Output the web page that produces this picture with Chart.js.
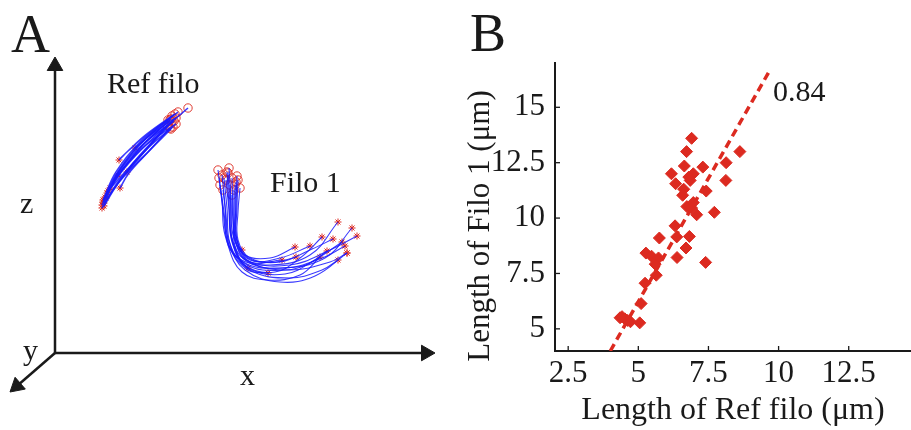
<!DOCTYPE html>
<html>
<head>
<meta charset="utf-8">
<script src="https://cdn.jsdelivr.net/npm/chart.js@4.4.1/dist/chart.umd.min.js"></script>
<style>
  html, body { margin: 0; padding: 0; background: #ffffff; }
  #wrap { position: relative; width: 911px; height: 430px; overflow: hidden; }
  #chartA { position: absolute; left: 0; top: 0; }
  #chartB { position: absolute; left: 460px; top: 0; }
</style>
</head>
<body>
<div id="wrap">
  <canvas id="chartA" width="460" height="430"></canvas>
  <canvas id="chartB" width="451" height="430"></canvas>
</div>
<script>
// ---------------- Panel B data ----------------
const REF_FILO_LEN = [6.90, 6.72, 8.62, 8.13, 7.30, 6.64, 6.18, 6.96, 6.33, 6.85, 8.12, 6.62, 7.42, 6.58, 6.73, 6.96, 7.08, 7.71, 6.31, 6.37, 6.82, 5.75, 6.70, 5.27, 5.47, 5.72, 6.38, 5.60, 7.40, 5.64, 5.24, 5.10, 4.42, 4.52, 4.62, 4.72, 5.05, 4.35, 6.80, 6.90];
const FILO1_LEN    = [13.6, 13.0, 13.0, 12.5, 12.3, 12.35, 12.0, 12.0, 11.55, 11.7, 11.7, 11.3, 11.22, 11.03, 10.52, 10.7, 10.15, 10.26, 9.65, 9.15, 9.17, 9.1, 8.65, 8.42, 8.28, 8.2, 8.22, 7.92, 8.0, 7.42, 7.06, 6.14, 5.55, 5.45, 5.38, 5.32, 5.27, 5.5, 11.85, 10.45];
const FIT_X = [4.0, 9.7];
const FIT_Y = [4.0, 16.7];
const CORR_LABEL = '0.84';
const CORR_POS = [9.8, 15.65];
const X_TICKS = [2.5, 5, 7.5, 10, 12.5];
const Y_TICKS = [5, 7.5, 10, 12.5, 15];
const X_TITLE = 'Length of Ref filo (\u03bcm)';
const Y_TITLE = 'Length of Filo 1 (\u03bcm)';

// ---------------- Panel A data (schematic x / z units) ----------------
const REF_FILO_TRACES = [
  [[47,148],[62,176],[86,206],[115,233]],
  [[48,153],[61,181],[85,211],[117,237]],
  [[52,160],[66,185],[91,215],[123,241]],
  [[50,156],[68,183],[95,212],[133,245]],
  [[49,150],[67,175],[92,204],[113,227]],
  [[53,162],[70,181],[94,206],[118,226]],
  [[64,193],[73,202],[92,219],[120,239]],
  [[72,181],[78,190],[96,210],[117,231]],
  [[65,165],[74,180],[95,203],[115,225]],
  [[80,205],[92,215],[105,225],[121,235]],
  [[63,178],[72,189],[90,210],[116,234]],
  [[47,145],[63,171],[88,200],[112,228]],
  [[48,151],[59,175],[81,205],[113,233]],
  [[51,155],[64,181],[87,208],[119,232]],
  [[55,165],[67,183],[91,208],[121,229]],
  [[49,147],[65,172],[93,201],[116,224]]
];
const FILO1_TRACES = [
  [[163,183],[167,153],[170,118],[183,95],[215,88],[255,98],[283,131]],
  [[167,178],[170,148],[173,115],[188,91],[225,85],[270,95],[297,125]],
  [[173,180],[175,148],[177,115],[191,93],[235,88],[275,103],[302,117]],
  [[177,175],[178,145],[180,113],[193,91],[230,85],[267,95],[290,107]],
  [[181,171],[181,143],[182,113],[195,91],[235,83],[275,91],[292,100]],
  [[185,165],[183,141],[183,113],[195,95],[225,91],[255,103],[278,114]],
  [[171,173],[174,143],[177,111],[191,87],[220,81],[245,95],[267,116]],
  [[175,168],[176,141],[178,109],[193,85],[230,79],[263,95],[287,111]],
  [[179,163],[179,138],[180,107],[195,83],[235,75],[267,83],[283,93]],
  [[165,168],[169,141],[173,108],[187,81],[213,73],[245,78],[265,96]],
  [[174,185],[176,153],[178,118],[190,98],[215,95],[240,106]],
  [[182,177],[181,148],[181,115],[193,95],[220,91],[241,96]],
  [[168,163],[171,138],[175,105],[193,83],[213,80]],
  [[177,158],[178,133],[182,108],[187,103]],
  [[180,168],[180,141],[181,110],[195,91],[227,93]],
  [[172,181],[174,148],[177,113],[192,88],[230,83],[255,90],[272,102]],
  [[169,175],[172,145],[175,109],[190,83],[225,71],[260,77],[292,100]],
  [[183,173],[182,145],[182,113],[195,93],[225,95],[255,107]],
  [[164,175],[168,143],[173,110],[186,90],[193,85]]
];
const SCHEMATIC_AXES = [
  { name: 'x', tip: [380, 0] },
  { name: 'z', tip: [0, 296] },
  { name: 'y', tip: [-45, -39] }
];
const LABELS_A = [
  { text: 'Ref filo', x: 52, z: 260 },
  { text: 'Filo 1', x: 215, z: 161 },
  { text: 'z', x: -35, z: 140 },
  { text: 'y', x: -32, z: -7 },
  { text: 'x', x: 185, z: -32 }
];

// ---------------- styles ----------------
const SERIF = "'Liberation Serif', 'Times New Roman', serif";
const INK = '#1a1a1a';
const RED = '#dc2a20';
const BLUE = 'rgba(25,25,255,0.85)';

// ---------------- Chart A ----------------
const dsA = [];
function toPts(tr) { return tr.map(p => ({ x: p[0], y: p[1] })); }
REF_FILO_TRACES.forEach(tr => dsA.push({ type: 'line', data: toPts(tr), borderColor: BLUE, borderWidth: 1.6, pointRadius: 0, tension: 0.4, fill: false }));
FILO1_TRACES.forEach(tr => dsA.push({ type: 'line', data: toPts(tr), borderColor: BLUE, borderWidth: 1.1, pointRadius: 0, tension: 0.4, fill: false }));
// Ref filo: stars at first point, circles at last; Filo 1: circles at first, stars at last
const circlePts = REF_FILO_TRACES.map(t => t[t.length - 1]).concat(FILO1_TRACES.map(t => t[0]));
const starPts = REF_FILO_TRACES.map(t => t[0]).concat(FILO1_TRACES.map(t => t[t.length - 1]));
dsA.push({ type: 'scatter', data: toPts(circlePts), pointStyle: 'circle', pointRadius: 4.2, backgroundColor: 'rgba(0,0,0,0)', borderColor: RED, borderWidth: 0.9 });
dsA.push({ type: 'scatter', data: toPts(starPts), pointStyle: 'star', pointRadius: 3.5, backgroundColor: RED, borderColor: RED, borderWidth: 1 });
// schematic axes with arrow heads
SCHEMATIC_AXES.forEach(ax => {
  const [tx, tz] = ax.tip;
  const len = Math.hypot(tx, tz);
  const ux = tx / len, uz = tz / len;
  const rot = Math.atan2(ux, uz) * 180 / Math.PI;
  dsA.push({ type: 'line', data: [{ x: 0, y: 0 }, { x: tx - 10 * ux, y: tz - 10 * uz }], borderColor: INK, borderWidth: 2.5, pointRadius: 0, tension: 0 });
  dsA.push({ type: 'scatter', data: [{ x: tx - 9 * ux, y: tz - 9 * uz }], pointStyle: 'triangle', pointRadius: 9, rotation: rot, backgroundColor: INK, borderColor: INK, borderWidth: 1 });
});

const textA = {
  id: 'textA',
  afterDraw(chart) {
    const ctx = chart.ctx, sx = chart.scales.x, sy = chart.scales.y;
    ctx.save();
    ctx.fillStyle = INK;
    ctx.textBaseline = 'alphabetic';
    ctx.textAlign = 'left';
    ctx.font = '30px ' + SERIF;
    LABELS_A.forEach(l => ctx.fillText(l.text, sx.getPixelForValue(l.x), sy.getPixelForValue(l.z)));
    ctx.font = '54px ' + SERIF;
    ctx.fillText('A', 11, 52);
    ctx.restore();
  }
};

new Chart(document.getElementById('chartA'), {
  data: { datasets: dsA },
  options: {
    responsive: false, animation: false,
    layout: { padding: 0, autoPadding: false },
    plugins: { legend: { display: false }, tooltip: { enabled: false } },
    scales: {
      x: { type: 'linear', min: -55, max: 405, display: false },
      y: { type: 'linear', min: -77, max: 353, display: false }
    }
  },
  plugins: [textA]
});

// ---------------- Chart B ----------------
const decorB = {
  id: 'decorB',
  afterDraw(chart) {
    const ctx = chart.ctx, sx = chart.scales.x, sy = chart.scales.y, a = chart.chartArea;
    ctx.save();
    ctx.strokeStyle = INK; ctx.lineWidth = 1.3;
    X_TICKS.forEach(v => { const px = sx.getPixelForValue(v); ctx.beginPath(); ctx.moveTo(px, a.bottom); ctx.lineTo(px, a.bottom - 5); ctx.stroke(); });
    Y_TICKS.forEach(v => { const py = sy.getPixelForValue(v); ctx.beginPath(); ctx.moveTo(a.left, py); ctx.lineTo(a.left + 5, py); ctx.stroke(); });
    ctx.fillStyle = INK;
    ctx.font = '30px ' + SERIF;
    ctx.textAlign = 'left'; ctx.textBaseline = 'middle';
    ctx.fillText(CORR_LABEL, sx.getPixelForValue(CORR_POS[0]), sy.getPixelForValue(CORR_POS[1]));
    // y-axis title (rotated), centred where the original places it
    ctx.save();
    ctx.translate(29, 226);
    ctx.rotate(-Math.PI / 2);
    ctx.textAlign = 'center'; ctx.textBaseline = 'alphabetic';
    ctx.font = '31px ' + SERIF;
    ctx.fillText(Y_TITLE, 0, 0);
    ctx.restore();
    ctx.font = '54px ' + SERIF;
    ctx.textAlign = 'left'; ctx.textBaseline = 'alphabetic';
    ctx.fillText('B', 10, 51);
    ctx.restore();
  }
};

new Chart(document.getElementById('chartB'), {
  data: {
    datasets: [
      { type: 'line', data: FIT_X.map((x, i) => ({ x, y: FIT_Y[i] })), borderColor: RED, borderWidth: 3.5, borderDash: [8, 5], pointRadius: 0, tension: 0, order: 2 },
      { type: 'scatter', data: REF_FILO_LEN.map((x, i) => ({ x, y: FILO1_LEN[i] })), pointStyle: 'rectRot', pointRadius: 6, backgroundColor: RED, borderColor: RED, borderWidth: 1, order: 1 }
    ]
  },
  options: {
    responsive: false, animation: false,
    layout: { padding: { top: 63, right: 0, left: 0, bottom: 0 }, autoPadding: false },
    plugins: { legend: { display: false }, tooltip: { enabled: false } },
    scales: {
      x: {
        type: 'linear', min: 2.03, max: 14.72,
        afterBuildTicks: s => { s.ticks = X_TICKS.map(v => ({ value: v })); },
        afterFit: s => { s.height = 79; },
        grid: { display: false, drawTicks: false },
        border: { display: true, color: INK, width: 2 },
        ticks: { color: INK, font: { family: SERIF, size: 31 }, padding: 4, maxRotation: 0, callback: v => String(v) },
        title: { display: true, text: X_TITLE, color: INK, font: { family: SERIF, size: 32 }, padding: { top: 0, bottom: 0 } }
      },
      y: {
        type: 'linear', min: 4, max: 17,
        afterBuildTicks: s => { s.ticks = Y_TICKS.map(v => ({ value: v })); },
        afterFit: s => { s.width = 95; },
        grid: { display: false, drawTicks: false },
        border: { display: true, color: INK, width: 2 },
        ticks: { color: INK, font: { family: SERIF, size: 31 }, padding: 10, callback: v => String(v) },
        title: { display: false }
      }
    }
  },
  plugins: [decorB]
});
</script>
</body>
</html>
